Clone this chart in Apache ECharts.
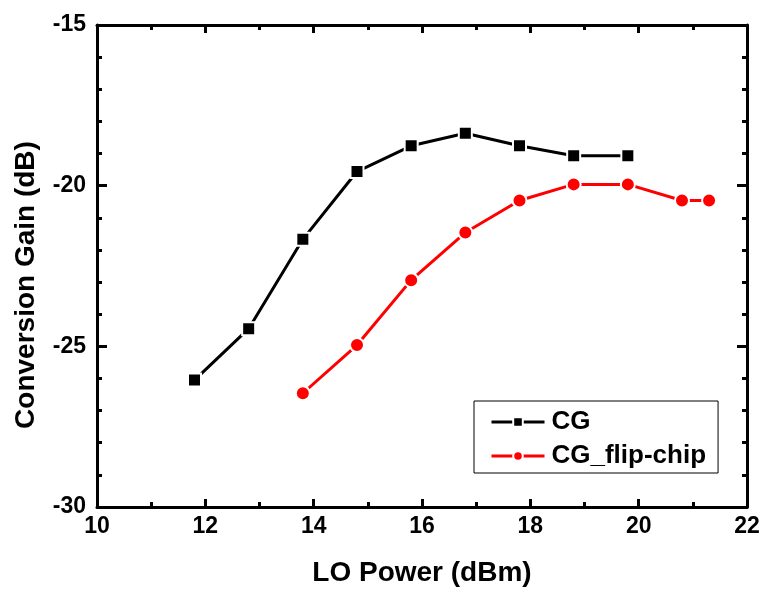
<!DOCTYPE html>
<html>
<head>
<meta charset="utf-8">
<script src="https://cdn.jsdelivr.net/npm/echarts@6/dist/echarts.min.js"></script>
<style>
  html, body { margin: 0; padding: 0; background: #fff; }
  #main { width: 764px; height: 589px; }
</style>
</head>
<body>
<div id="main"></div>
<script>
// LO power (dBm) and conversion gain (dB)
const cgX = [11.8, 12.8, 13.8, 14.8, 15.8, 16.8, 17.8, 18.8, 19.8];
const cgY = [-26.05, -24.45, -21.67, -19.56, -18.76, -18.37, -18.76, -19.07, -19.07];
const flipX = [13.8, 14.8, 15.8, 16.8, 17.8, 18.8, 19.8, 20.8, 21.3];
const flipY = [-26.46, -24.96, -22.94, -21.46, -20.46, -19.96, -19.96, -20.46, -20.46];

const FONT = 'Liberation Sans, Arial, sans-serif';

const chart = echarts.init(document.getElementById('main'), null, { renderer: 'canvas' });

const pairs = (xs, ys) => xs.map((x, i) => [x, ys[i]]);

const axisLine = { show: true, onZero: false, lineStyle: { color: '#000', width: 3 } };
const tick = (len) => ({ show: true, inside: true, length: len, lineStyle: { color: '#000', width: 3 } });
const minor = (n) => ({ show: true, splitNumber: n, length: 5, lineStyle: { color: '#000', width: 3 } });
const label = { color: '#000', fontFamily: FONT, fontWeight: 'bold', fontSize: 23 };
const title = { color: '#000', fontFamily: FONT, fontWeight: 'bold', fontSize: 28 };

const option = {
  animation: false,
  backgroundColor: '#fff',
  grid: { left: 97, right: 17, top: 25, bottom: 82, containLabel: false, outerBoundsMode: 'none' },
  xAxis: [
    {
      type: 'value', min: 10, max: 22, interval: 2, position: 'bottom',
      name: 'LO Power (dBm)', nameLocation: 'middle', nameGap: 52,
      nameTextStyle: title,
      axisLine, axisTick: tick(8), minorTick: minor(2),
      axisLabel: Object.assign({ margin: 8 }, label),
      splitLine: { show: false }
    },
    {
      type: 'value', min: 10, max: 22, interval: 2, position: 'top',
      axisLine, axisTick: tick(8), minorTick: minor(2),
      axisLabel: { show: false }, splitLine: { show: false }
    }
  ],
  yAxis: [
    {
      type: 'value', min: -30, max: -15, interval: 5, position: 'left',
      name: 'Conversion Gain (dB)', nameLocation: 'middle', nameGap: 57, nameRotate: 90,
      nameTextStyle: Object.assign({ padding: [0, 38, 0, 0] }, title),
      axisLine, axisTick: tick(10), minorTick: minor(5),
      axisLabel: Object.assign({ margin: 11 }, label),
      splitLine: { show: false }
    },
    {
      type: 'value', min: -30, max: -15, interval: 5, position: 'right',
      axisLine, axisTick: tick(10), minorTick: minor(5),
      axisLabel: { show: false }, splitLine: { show: false }
    }
  ],
  legend: {
    orient: 'vertical',
    left: 474, top: 401,
    padding: [8, 12, 4, 16],
    borderColor: '#000', borderWidth: 1,
    itemWidth: 53, itemHeight: 12, itemGap: 8,
    lineStyle: { width: 3 },
    textStyle: { color: '#000', fontFamily: FONT, fontWeight: 'bold', fontSize: 26, padding: [0, 0, 0, 2] },
    data: ['CG', 'CG_flip-chip']
  },
  series: [
    {
      name: 'CG', type: 'line',
      data: pairs(cgX, cgY),
      symbol: 'rect', symbolSize: 13,
      lineStyle: { color: '#000', width: 3 },
      itemStyle: { color: '#000', borderColor: '#fff', borderWidth: 2 }
    },
    {
      name: 'CG_flip-chip', type: 'line',
      data: pairs(flipX, flipY),
      symbol: 'circle', symbolSize: 14,
      lineStyle: { color: '#ff0000', width: 3 },
      itemStyle: { color: '#ff0000', borderColor: '#fff', borderWidth: 2 }
    }
  ]
};

chart.setOption(option);
</script>
</body>
</html>
